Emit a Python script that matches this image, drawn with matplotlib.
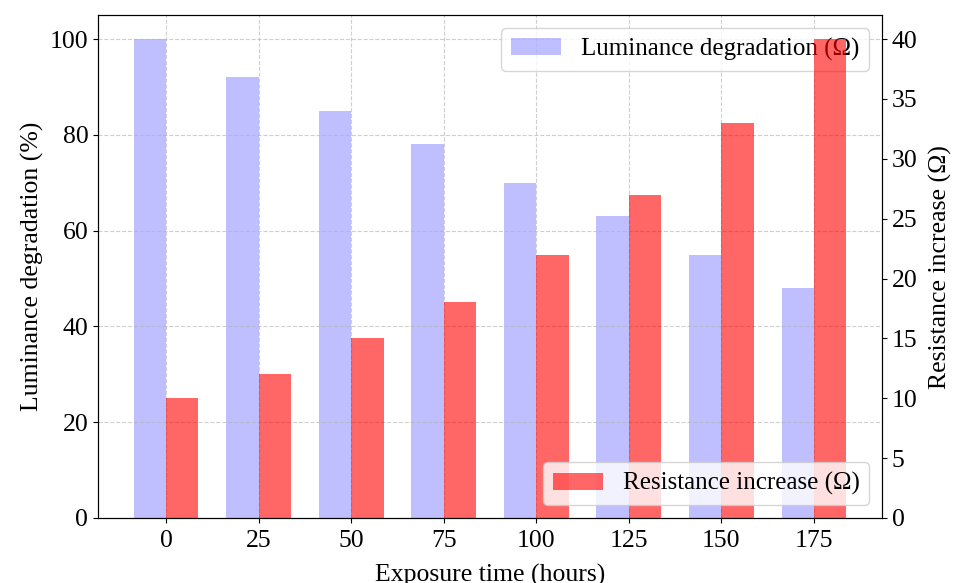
import numpy as np
import matplotlib.pyplot as plt

plt.rcParams['font.family'] = ['Liberation Serif', 'DejaVu Serif']

hours = [0, 25, 50, 75, 100, 125, 150, 175]
luminance = [100, 92, 85, 78, 70, 63, 55, 48]
resistance = [10, 12, 15, 18, 22, 27, 33, 40]

x = np.arange(len(hours))
width = 0.35
fs = 18.5

fig, ax1 = plt.subplots(figsize=(9.54, 5.83), dpi=100)
fig.subplots_adjust(left=0.1027, right=0.9245, top=0.974, bottom=0.1115)

ax1.bar(x - width / 2, luminance, width, color='blue', alpha=0.25,
        label='Luminance degradation (Ω)')
ax1.set_ylabel('Luminance degradation (%)', fontsize=fs)
ax1.set_xlabel('Exposure time (hours)', fontsize=fs, labelpad=9)
ax1.set_xticks(x)
ax1.set_xticklabels(hours)
ax1.tick_params(labelsize=fs)
ax1.tick_params(axis='x', pad=5)
ax1.grid(True, linestyle='--', alpha=0.6)
ax1.legend(loc='upper right', fontsize=18)

ax2 = ax1.twinx()
ax2.bar(x + width / 2, resistance, width, color='red', alpha=0.6,
        label='Resistance increase (Ω)')
ax2.set_ylabel('Resistance increase (Ω)', fontsize=fs, labelpad=8)
ax2.tick_params(labelsize=fs)
ax2.legend(loc='lower right', fontsize=18)

plt.savefig('out.png', dpi=100)
